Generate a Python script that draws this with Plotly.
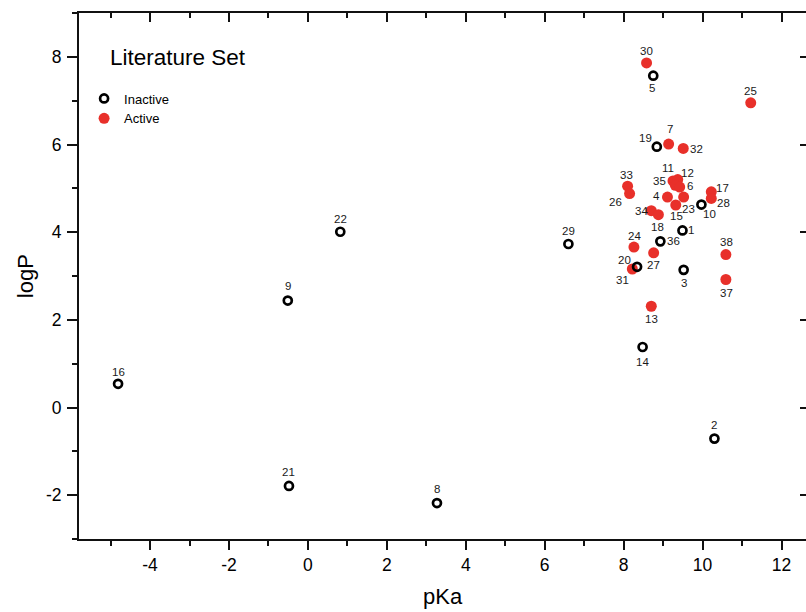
import plotly.graph_objects as go

# ---------------- data ----------------
inactive_ids = ["16", "9", "22", "21", "8", "29", "5", "19", "10", "1", "36", "20", "3", "14", "2"]
inactive_pka = [-4.81, -0.51, 0.82, -0.48, 3.27, 6.60, 8.75, 8.84, 9.97, 9.49, 8.93, 8.34, 9.52, 8.48, 10.30]
inactive_logp = [0.54, 2.44, 4.01, -1.79, -2.18, 3.73, 7.57, 5.95, 4.63, 4.04, 3.79, 3.21, 3.14, 1.38, -0.71]

active_ids = ["30", "25", "7", "32", "33", "26", "11", "12", "35", "6", "4", "15", "23", "17", "28",
              "34", "18", "24", "27", "31", "38", "37", "13"]
active_pka = [8.58, 11.22, 9.14, 9.51, 8.10, 8.15, 9.25, 9.37, 9.31, 9.42, 9.11, 9.32, 9.52, 10.22, 10.22,
              8.70, 8.88, 8.26, 8.76, 8.22, 10.59, 10.59, 8.70]
active_logp = [7.86, 6.95, 6.01, 5.91, 5.05, 4.88, 5.17, 5.20, 5.07, 5.03, 4.80, 4.62, 4.80, 4.92, 4.77,
               4.49, 4.40, 3.66, 3.53, 3.16, 3.49, 2.92, 2.31]

x_tick_vals = [-4, -2, 0, 2, 4, 6, 8, 10, 12]
y_tick_vals = [-2, 0, 2, 4, 6, 8]

# ---------------- styles ----------------
FONT = "Liberation Sans, Arial, sans-serif"
RED = "#e8302a"
AXC = "#111111"

# label offsets in pixels (dx right, dy down)
label_offsets = {
    "16": (0, -12), "9": (0, -15), "22": (0, -13), "21": (0, -14), "8": (0, -14), "29": (0, -13),
    "5": (-1, 12), "19": (-11, -9), "10": (8, 9), "1": (9, 0), "36": (13, 0), "20": (-13, -7),
    "3": (0, 13), "14": (0, 15), "2": (0, -14),
    "30": (0, -12), "25": (0, -12), "7": (1, -15), "32": (13, 1), "33": (-1, -11), "26": (-14, 8),
    "11": (-5, -13), "12": (10, -7), "35": (-16, -4), "6": (10, -1), "4": (-11, -1), "15": (1, 11),
    "23": (5, 12), "17": (11, -4), "28": (12, 5), "34": (-10, 0), "18": (-1, 12), "24": (1, -11),
    "27": (0, 12), "31": (-10, 11), "38": (1, -13), "37": (1, 13), "13": (0, 13),
}

fig = go.Figure()

fig.add_trace(go.Scatter(
    x=active_pka, y=active_logp, mode="markers", name="Active", legendrank=2,
    marker=dict(symbol="circle", size=11, color=RED, line=dict(width=0)),
))
fig.add_trace(go.Scatter(
    x=inactive_pka, y=inactive_logp, mode="markers", name="Inactive", legendrank=1,
    marker=dict(symbol="circle-open", size=8, color="black", line=dict(width=2.7, color="black")),
))
# dummy trace to activate the mirrored axes
fig.add_trace(go.Scatter(x=[None], y=[None], xaxis="x2", yaxis="y2", showlegend=False, hoverinfo="skip"))

annotations = []
for ids, xs, ys in [(inactive_ids, inactive_pka, inactive_logp), (active_ids, active_pka, active_logp)]:
    for i, xv, yv in zip(ids, xs, ys):
        dx, dy = label_offsets.get(i, (0, -12))
        annotations.append(dict(
            x=xv, y=yv, xref="x", yref="y", text=i, showarrow=False,
            xshift=dx, yshift=-dy, font=dict(family=FONT, size=11.5, color="#1a1a1a"),
        ))

annotations.append(dict(
    x=0.040, y=0.915, xref="paper", yref="paper", xanchor="left", yanchor="middle",
    text="Literature Set", showarrow=False, font=dict(family=FONT, size=22.5, color="black"),
))
annotations.append(dict(
    x=0.5, y=-0.11, xref="paper", yref="paper", xanchor="center", yanchor="middle",
    text="pKa", showarrow=False, font=dict(family=FONT, size=22, color="black"),
))
annotations.append(dict(
    x=-0.074, y=0.5, xref="paper", yref="paper", xanchor="center", yanchor="middle",
    text="logP", showarrow=False, textangle=-90, font=dict(family=FONT, size=22, color="black"),
))

x_range = [-5.80, 12.62]
y_range = [-3.0, 9.0]

fig.update_layout(
    width=806, height=612,
    margin=dict(l=79, r=0, t=13, b=73),
    paper_bgcolor="white", plot_bgcolor="white",
    showlegend=True,
    legend=dict(
        x=0.007, y=0.866, xanchor="left", yanchor="top",
        font=dict(family=FONT, size=13, color="black"),
        bgcolor="rgba(0,0,0,0)", borderwidth=0, tracegroupgap=0, itemwidth=30,
    ),
    annotations=annotations,
    xaxis=dict(
        range=x_range, tickmode="array", tickvals=x_tick_vals,
        ticktext=[str(v) for v in x_tick_vals],
        showgrid=False, zeroline=False, showline=True, linecolor=AXC, linewidth=2,
        ticks="outside", ticklen=9, tickwidth=2, tickcolor=AXC,
        minor=dict(dtick=1, tick0=1, ticks="outside", ticklen=5, tickwidth=2, tickcolor=AXC, showgrid=False),
        tickfont=dict(family=FONT, size=17.5, color="black"),
    ),
    yaxis=dict(
        range=y_range, tickmode="array", tickvals=y_tick_vals,
        ticktext=[str(v) for v in y_tick_vals],
        showgrid=False, zeroline=False, showline=True, linecolor=AXC, linewidth=2,
        ticks="outside", ticklen=10, tickwidth=2, tickcolor=AXC, ticklabelstandoff=2,
        minor=dict(dtick=1, tick0=1, ticks="outside", ticklen=5, tickwidth=2, tickcolor=AXC, showgrid=False),
        tickfont=dict(family=FONT, size=17.5, color="black"),
    ),
    xaxis2=dict(
        range=x_range, overlaying="x", side="top", tickmode="array", tickvals=x_tick_vals,
        showticklabels=False, showgrid=False, zeroline=False, showline=True, linecolor=AXC, linewidth=2,
        ticks="inside", ticklen=9, tickwidth=2, tickcolor=AXC,
        minor=dict(dtick=1, tick0=1, ticks="inside", ticklen=5, tickwidth=2, tickcolor=AXC, showgrid=False),
    ),
    yaxis2=dict(
        range=y_range, overlaying="y", side="right", tickmode="array", tickvals=y_tick_vals,
        showticklabels=False, showgrid=False, zeroline=False, showline=False,
        ticks="inside", ticklen=6, tickwidth=2, tickcolor=AXC,
    ),
)

fig.write_html(
    "out.html",
    config={"displayModeBar": False},
    post_script="document.body.style.margin='0';document.body.style.overflow='hidden';",
)
